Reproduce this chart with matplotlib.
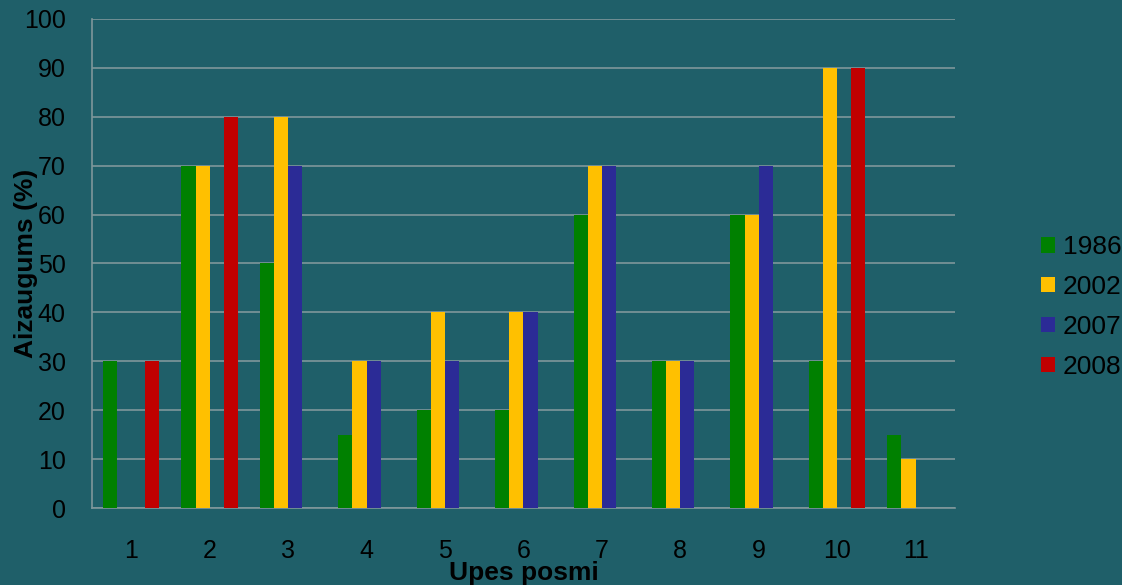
import numpy as np
import matplotlib
matplotlib.use("Agg")
import matplotlib.pyplot as plt

# upes posmi un aizaugums pa gadiem (nan = nav datu)
posmi = [1, 2, 3, 4, 5, 6, 7, 8, 9, 10, 11]
gadi = ["1986", "2002", "2007", "2008"]
v1986 = [30, 70, 50, 15, 20, 20, 60, 30, 60, 30, 15]
v2002 = [np.nan, 70, 80, 30, 40, 40, 70, 30, 60, 90, 10]
v2007 = [np.nan, np.nan, 70, 30, 30, 40, 70, 30, 70, np.nan, np.nan]
v2008 = [30, 80, np.nan, np.nan, np.nan, np.nan, np.nan, np.nan, np.nan, 90, np.nan]
krasas = ["#008000", "#FFC000", "#2B2B96", "#C00000"]

bg = "#1F5F69"
plt.rcParams['font.family'] = ['Liberation Sans', 'DejaVu Sans']

fig = plt.figure(figsize=(11.22, 5.85), dpi=100, facecolor=bg)
ax = fig.add_axes([0.082, 0.1316, 0.769, 0.836], facecolor=bg)

x = np.arange(len(posmi))
w = 0.18
vertibas = [v1986, v2002, v2007, v2008]
for i, (vals, gads, c) in enumerate(zip(vertibas, gadi, krasas)):
    ax.bar(x + (i - 1.5) * w, vals, width=w, color=c, label=gads, zorder=3)

ax.set_xlim(-0.5, len(posmi) - 0.5)
ax.set_ylim(0, 100)
ax.set_yticks(range(0, 101, 10))
ax.set_xticks(x)
ax.set_xticklabels([str(p) for p in posmi])

ax.grid(axis="y", color="#7F979B", linewidth=1.2, zorder=1)
ax.set_axisbelow(True)
for s in ["top", "right"]:
    ax.spines[s].set_visible(False)
for s in ["left", "bottom"]:
    ax.spines[s].set_color("#7F979B")
    ax.spines[s].set_linewidth(1.2)

ax.tick_params(axis="both", length=0, labelsize=18, colors="black")
ax.tick_params(axis="x", pad=22)
ax.tick_params(axis="y", pad=19)

ax.set_xlabel("Upes posmi", fontsize=19, fontweight="bold", va="center")
ax.xaxis.set_label_coords(0.5, -0.133)
ax.set_ylabel("Aizaugums (%)", fontsize=19, fontweight="bold", va="center")
ax.yaxis.set_label_coords(-0.077, 0.5)

leg = fig.legend(loc="center left", bbox_to_anchor=(0.907, 0.475), frameon=False,
                 fontsize=19, handlelength=0.5, handleheight=0.5,
                 handletextpad=0.3, labelspacing=0.6)

fig.savefig("out.png", dpi=100, facecolor=bg)
